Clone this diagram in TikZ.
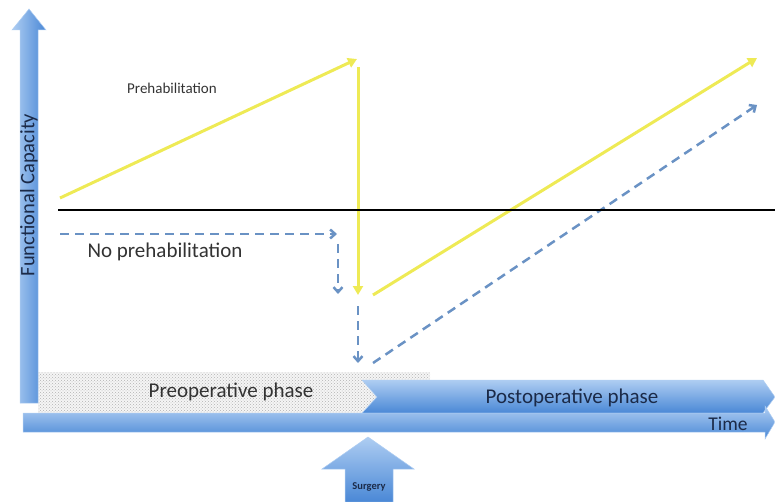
\documentclass[tikz,border=0pt]{standalone}
\usepackage{fontspec}
\setmainfont{Carlito}
\usetikzlibrary{arrows.meta,patterns}
\definecolor{capyellow}{HTML}{EEEA55}
\definecolor{nopreblue}{HTML}{6A92C4}
\definecolor{bartop}{HTML}{AECDF2}
\definecolor{barbottom}{HTML}{4A88D6}
\definecolor{labelgray}{HTML}{333333}
\definecolor{labelnavy}{HTML}{1B2A48}
\begin{document}
\begin{tikzpicture}[x=1pt, y=-1pt,
    prehab/.style = {draw=capyellow, line width=3pt, -{Triangle[length=9pt,width=10pt]}},
    noprehab/.style = {draw=nopreblue, line width=2.5pt, dash pattern=on 9pt off 6pt, -{Straight Barb[length=5pt,width=9pt]}},
    bar/.style = {top color=bartop, bottom color=barbottom, draw=bartop, line width=0.5pt},
    lbl/.style = {text=labelgray, font=\fontsize{21}{24}\selectfont, inner sep=0pt}]
    \useasboundingbox (0,0) rectangle (775,502);
    \fill[gray!8] (38,372) rectangle (430,413);
    \fill[pattern=crosshatch dots, pattern color=gray!60] (38,372) rectangle (430,413);
    \shade[left color=bartop, right color=barbottom, draw=bartop, line width=0.5pt]
        (20,403) -- (20,30) -- (12,30) -- (29,9) -- (46,30) -- (38,30) -- (38,403) -- cycle;
    \shade[bar] (362,380) -- (763,380) -- (775,397) -- (763,413) -- (362,413) -- (377,397) -- cycle;
    \shade[bar] (23,413) -- (765,413) -- (765,406) -- (775,422) -- (765,439) -- (765,432) -- (23,432) -- cycle;
    \shade[bar] (345,502) -- (345,469) -- (322,469) -- (368,437) -- (414,469) -- (393,469) -- (393,502) -- cycle;
    \node[lbl, rotate=90, text=labelnavy, font=\fontsize{20.5}{24}\selectfont] (capacity) at (29,195) {Functional Capacity};
    \node[lbl, font=\fontsize{15}{18}\selectfont] (prehablabel) at (172,88) {Prehabilitation};
    \node[lbl] (noprehablabel) at (165,252) {No prehabilitation};
    \node[lbl] (preop) at (231,392) {Preoperative phase};
    \node[lbl, text=labelnavy] (postop) at (572,398) {Postoperative phase};
    \node[lbl, text=labelnavy, font=\fontsize{19.5}{22}\selectfont] (time) at (728,424) {Time};
    \node[lbl, text=labelnavy, font=\bfseries\fontsize{10.5}{12}\selectfont] (surgery) at (369,487) {Surgery};
    \coordinate (base0) at (58,210);
    \coordinate (base1) at (775,210);
    \coordinate (p0) at (60,198);
    \coordinate (p1) at (357,59);
    \coordinate (p2) at (358,67);
    \coordinate (p3) at (358,295);
    \coordinate (p4) at (373,295);
    \coordinate (p5) at (757,58);
    \coordinate (n0) at (60,234);
    \coordinate (n1) at (337,234);
    \coordinate (n2) at (338,244);
    \coordinate (n3) at (338,294);
    \coordinate (n4) at (358,306);
    \coordinate (n5) at (358,363);
    \coordinate (n6) at (373,363);
    \coordinate (n7) at (757,105);
    \draw[prehab] (p0) -- (p1);
    \draw[prehab] (p2) -- (p3);
    \draw[prehab] (p4) -- (p5);
    \draw[noprehab] (n0) -- (n1);
    \draw[noprehab] (n2) -- (n3);
    \draw[noprehab] (n4) -- (n5);
    \draw[noprehab] (n6) -- (n7);
    \draw[line width=2pt] (base0) -- (base1);
\end{tikzpicture}
\end{document}
